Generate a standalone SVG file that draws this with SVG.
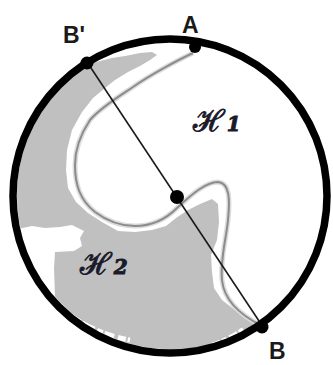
<svg xmlns="http://www.w3.org/2000/svg" width="333" height="365" viewBox="0 0 333 365">
<style>
.lbl{font-family:"Liberation Sans",Arial,sans-serif;font-weight:bold;font-size:23px;fill:#1a1a1a}
.scr{font-family:"DejaVu Serif","Noto Sans",serif;font-style:italic;font-weight:bold;fill:#1a1a2a;stroke:#1a1a2a;stroke-width:0.9}
.dot{fill:#000}
.curve{fill:none}
</style>
<rect width="333" height="365" fill="#fff"/>
<g id="regionH2">
<path d="M88,65 L100,61 L112,58 L125,56 L140,53 L152,52 L157,55 L150,60 L140,66 L128,72 L115,80 L105,88 L93,98 L82,112 L72,130 L67,150 L66,170 L68,188 L76,202 L88,213 L102,222 L118,231 L135,232 L152,230 L166,226 L176,218 L188,210 L200,204 L212,199 L218,204 L219,222 L217,240 L211,255 L212,272 L214,288 L222,300 L236,311 L248,318 L255,325 A154,154 0 1 1 88,65 Z" fill="#c0c0c0"/>
<path d="M18,229 L32,226 L45,228 L60,227 L72,225 L84,231 L80,238 L82,246 L74,251 L55,252 L54,268 L55,296 L47,300 L36,290 L26,272 L20,252 Z" fill="#fff"/>
<path d="M44,292 A148,148 0 0 0 130,340" fill="none" stroke="#fff" stroke-width="5" stroke-dasharray="14 3 6 2 10 4 8 2"/>
<path d="M212,345 A148,148 0 0 0 245,328" fill="none" stroke="#fff" stroke-width="4" stroke-dasharray="9 2 5 3"/>
<text class="scr" x="80" y="274" font-size="30">ℋ<tspan font-size="20" dx="2">2</tspan></text>
</g>
<g id="regionH1">
<text class="scr" x="193" y="131" font-size="30">ℋ<tspan font-size="20" dx="2">1</tspan></text>
</g>
<g id="connectors">
<path class="curve" d="M193,53 C178,60 150,75 133,87 C118,97 100,108 90,120 C80,135 75,150 75,165 C75,185 80,200 95,212 C107,221 120,226 135,226 C150,226 165,220 177,208 C192,194 206,182 218,182 C230,183 230,200 228,220 C226,240 220,260 222,280 C224,300 240,315 262,326" stroke="#dcdcdc" stroke-width="5"/>
<path class="curve" d="M193,53 C178,60 150,75 133,87 C118,97 100,108 90,120 C80,135 75,150 75,165 C75,185 80,200 95,212 C107,221 120,226 135,226 C150,226 165,220 177,208 C192,194 206,182 218,182 C230,183 230,200 228,220 C226,240 220,260 222,280 C224,300 240,315 262,326" stroke="#8c8c8c" stroke-width="2"/>
<line x1="87" y1="62" x2="263" y2="327" stroke="#1a1a1a" stroke-width="1.6"/>
</g>
<g id="circle">
<circle cx="170" cy="196" r="157" fill="none" stroke="#000" stroke-width="7.5"/>
</g>
<g id="A"><circle class="dot" cx="195" cy="47" r="6"/><text class="lbl" x="182" y="33">A</text></g>
<g id="Bprime"><circle class="dot" cx="87" cy="63" r="6.5"/><text class="lbl" x="63" y="43">B'</text></g>
<g id="B"><circle class="dot" cx="262" cy="327" r="6.5"/><text class="lbl" x="269" y="359" font-size="19">B</text></g>
<g id="O"><circle class="dot" cx="177" cy="197" r="7"/></g>
</svg>
